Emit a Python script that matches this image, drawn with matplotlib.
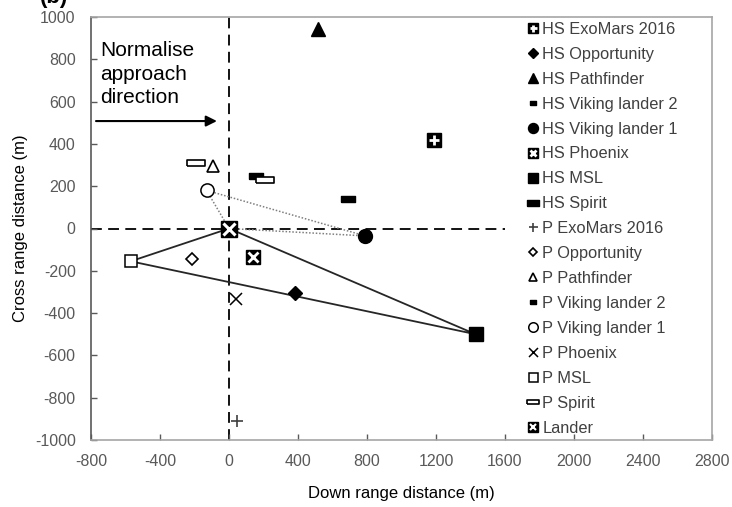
import matplotlib
matplotlib.use('Agg')
import matplotlib.pyplot as plt
from matplotlib.lines import Line2D

plt.rcParams['font.family'] = ['Liberation Sans', 'DejaVu Sans']
plt.rcParams['axes.unicode_minus'] = False

# series labels and positions (m)
labels = ['HS ExoMars 2016', 'HS Opportunity', 'HS Pathfinder', 'HS Viking lander 2',
          'HS Viking lander 1', 'HS Phoenix', 'HS MSL', 'HS Spirit',
          'P ExoMars 2016', 'P Opportunity', 'P Pathfinder', 'P Viking lander 2',
          'P Viking lander 1', 'P Phoenix', 'P MSL', 'P Spirit', 'Lander']
down_range = [1190, 385, 515, 155, 790, 140, 1430, 690,
              45, -215, -90, 210, -130, 40, -570, -190, 0]
cross_range = [420, -305, 942, 248, -35, -135, -500, 140,
               -910, -145, 295, 228, 180, -335, -155, 311, 0]

# triangles joining predicted point, lander and hazard-selected site
msl_tri = ['P MSL', 'Lander', 'HS MSL', 'P MSL']
vl1_tri = ['P Viking lander 1', 'Lander', 'HS Viking lander 1', 'P Viking lander 1']

xticks = [-800, -400, 0, 400, 800, 1200, 1600, 2000, 2400, 2800]
yticks = [-1000, -800, -600, -400, -200, 0, 200, 400, 600, 800, 1000]

bar_black = [(-1, -0.45), (1, -0.45), (1, 0.45), (-1, 0.45), (-1, -0.45)]
bar_white = [(-1, -0.32), (1, -0.32), (1, 0.32), (-1, 0.32), (-1, -0.32)]

K = 'black'
styles = {
    'HS ExoMars 2016': [dict(marker='s', ms=10, mfc=K, mec=K), dict(marker='+', ms=7, mec='w', mew=2)],
    'HS Opportunity': [dict(marker='D', ms=7, mfc=K, mec=K)],
    'HS Pathfinder': [dict(marker='^', ms=10, mfc=K, mec=K)],
    'HS Viking lander 2': [dict(marker=bar_black, ms=10, mfc=K, mec=K)],
    'HS Viking lander 1': [dict(marker='o', ms=10, mfc=K, mec=K)],
    'HS Phoenix': [dict(marker='s', ms=9.5, mfc=K, mec=K), dict(marker='x', ms=6.5, mec='w', mew=2)],
    'HS MSL': [dict(marker='s', ms=10, mfc=K, mec=K)],
    'HS Spirit': [dict(marker=bar_black, ms=10, mfc=K, mec=K)],
    'P ExoMars 2016': [dict(marker='+', ms=9, mec='#404040', mew=1.2)],
    'P Opportunity': [dict(marker='D', ms=6, mfc='w', mec=K, mew=1.2)],
    'P Pathfinder': [dict(marker='^', ms=8.5, mfc='w', mec=K, mew=1.2)],
    'P Viking lander 2': [dict(marker=bar_white, ms=13.5, mfc='w', mec=K, mew=1.2)],
    'P Viking lander 1': [dict(marker='o', ms=9.5, mfc='w', mec=K, mew=1.1)],
    'P Phoenix': [dict(marker='x', ms=9, mec=K, mew=1.1)],
    'P MSL': [dict(marker='s', ms=9, mfc='w', mec=K, mew=1.1)],
    'P Spirit': [dict(marker=bar_white, ms=13.5, mfc='w', mec=K, mew=1.2)],
    'Lander': [dict(marker='s', ms=12, mfc=K, mec=K), dict(marker='x', ms=9, mec='w', mew=2.2)],
}

fig = plt.figure(figsize=(7.32, 5.07), dpi=100)
ax = fig.add_axes([91 / 732, 67 / 507, 621 / 732, 423 / 507])

pos = {lab: (x, y) for lab, x, y in zip(labels, down_range, cross_range)}

# reference axes through the lander
ax.plot([0, 0], [-1000, 1000], color=K, lw=1.3, ls=(0, (6, 3.5)), zorder=1)
ax.plot([-800, 1600], [0, 0], color=K, lw=1.3, ls=(0, (6, 3.5)), zorder=1)

ax.plot([pos[l][0] for l in msl_tri], [pos[l][1] for l in msl_tri], color='#262626', lw=1.3, zorder=2)
ax.plot([pos[l][0] for l in vl1_tri], [pos[l][1] for l in vl1_tri], color='#7f7f7f', lw=1.1,
        ls=(0, (1, 1.2)), zorder=2)

handles = []
for lab in labels:
    x, y = pos[lab]
    parts = []
    scale = 0.55 if lab == 'Lander' else 0.72
    for i, kw in enumerate(styles[lab]):
        ax.plot([x], [y], ls='none', zorder=3 + i + (5 if lab == 'Lander' else 0), **kw)
        lkw = dict(kw)
        lkw['ms'] = kw['ms'] * scale
        if lab == 'Lander' and kw['marker'] == 'x':
            lkw['mew'] = 1.5
        parts.append(Line2D([], [], ls='none', **lkw))
    if 'Viking lander 2' in lab:
        parts = [Line2D([], [], ls='none', marker=bar_black, ms=5, mfc=K, mec=K)]
    if lab in ('HS Spirit', 'P Spirit'):
        parts[0].set_markersize(8.5)
    handles.append(tuple(parts) if len(parts) > 1 else parts[0])

leg = ax.legend(handles, labels, loc='upper left', bbox_to_anchor=(0.69, 1.004), frameon=False,
                fontsize=11.8, handlelength=0.8, handletextpad=0.2, labelspacing=0.605,
                borderaxespad=0)
for t in leg.get_texts():
    t.set_color('#404040')

ax.annotate('', xy=(-70, 508), xytext=(-771, 508),
            arrowprops=dict(arrowstyle='-|>', color=K, lw=1.5, mutation_scale=16,
                            shrinkA=0, shrinkB=0))
ax.text(-748, 885, 'Normalise\napproach\ndirection', va='top', ha='left', fontsize=15,
        linespacing=1.3)

ax.set_xlim(-800, 2800)
ax.set_ylim(-1000, 1000)
ax.set_xticks(xticks)
ax.set_yticks(yticks)
ax.tick_params(direction='in', length=4, width=1, colors='#595959', labelsize=11.5, pad=10)
ax.tick_params(axis='y', pad=11)
for side in ['left', 'bottom', 'top', 'right']:
    ax.spines[side].set_color('#a6a6a6')
    ax.spines[side].set_linewidth(1.2)
ax.spines['left'].set_color('#595959')

ax.set_xlabel('Down range distance (m)', fontsize=12, labelpad=12)
ax.set_ylabel('Cross range distance (m)', fontsize=12, labelpad=5)

fig.text(40 / 732, 1 - 3 / 507, '(b)', fontsize=16, fontweight='bold', va='baseline', ha='left')

fig.savefig('out.png', dpi=100)
